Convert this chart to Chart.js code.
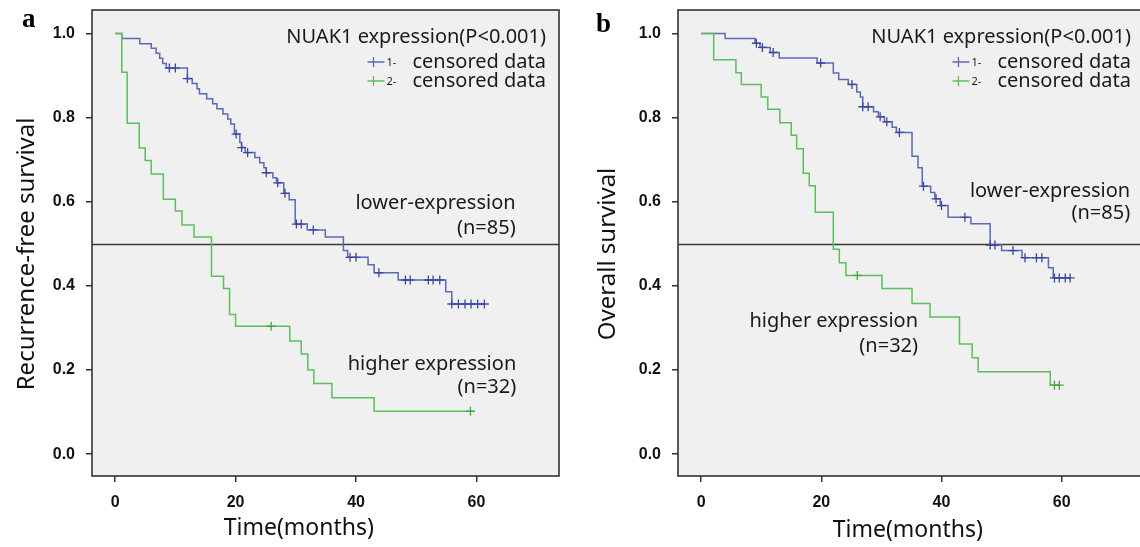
<!DOCTYPE html>
<html>
<head>
<meta charset="utf-8">
<script src="https://cdn.jsdelivr.net/npm/chart.js@4.4.1/dist/chart.umd.min.js"></script>
<style>
  html, body { margin: 0; padding: 0; width: 1140px; height: 547px; overflow: hidden; background: #fff; }
  .panel { position: absolute; top: 0; height: 547px; }
  #panelA { left: 0; width: 570px; }
  #panelB { left: 570px; width: 580px; }
</style>
</head>
<body>
<div class="panel" id="panelA"><canvas id="chartA"></canvas></div>
<div class="panel" id="panelB"><canvas id="chartB"></canvas></div>
<script>
// axis ticks shared by both panels
const xTicks = [0, 20, 40, 60];
const yTicks = [0.0, 0.2, 0.4, 0.6, 0.8, 1.0];
const medianLevel = 0.5;

// (a) recurrence-free survival, lower expression (n=85)
const rfsLowTime = [0, 1.1, 4.1, 6.0, 6.8, 7.4, 7.9, 8.5, 12.0, 12.8, 13.6, 14.0, 15.2, 16.2, 16.9, 17.9, 18.7, 19.2, 19.8, 20.7,
  21.0, 21.6, 23.2, 24.0, 24.7, 25.1, 26.2, 26.8, 28.0, 28.9, 29.9, 31.9, 34.9, 37.9, 38.6, 42.0, 43.0, 47.0, 54.9, 55.9];
const rfsLowSurv = [1.0, 0.988, 0.976, 0.965, 0.953, 0.941, 0.929, 0.918, 0.893, 0.881, 0.869, 0.857, 0.845, 0.833, 0.821, 0.809, 0.797, 0.785, 0.761, 0.741,
  0.729, 0.717, 0.705, 0.693, 0.681, 0.669, 0.657, 0.645, 0.620, 0.605, 0.547, 0.533, 0.516, 0.484, 0.468, 0.450, 0.431, 0.414, 0.386, 0.357];
const rfsLowCensored = [9.0, 10.0, 12.0, 20.1, 21.0, 22.0, 25.1, 27.0, 28.2, 30.1, 30.9, 32.9, 39.0, 40.0, 43.8,
  48.2, 49.0, 52.0, 52.8, 53.9, 55.9, 57.0, 58.1, 59.1, 60.2, 61.3];

// (a) recurrence-free survival, higher expression (n=32)
const rfsHighTime = [0, 1.1, 2.0, 4.0, 5.0, 6.0, 8.0, 10.0, 11.1, 13.1, 16.0, 18.0, 19.0, 20.0, 29.0, 30.9, 32.0, 33.0, 36.0, 43.0];
const rfsHighSurv = [1.0, 0.908, 0.787, 0.728, 0.698, 0.666, 0.606, 0.578, 0.545, 0.516, 0.423, 0.394, 0.332, 0.304, 0.269, 0.238, 0.200, 0.168, 0.134, 0.102];
const rfsHighCensored = [25.9, 59.0];

// (b) overall survival, lower expression (n=85)
const osLowTime = [0, 4.0, 9.0, 9.8, 11.5, 13.0, 19.3, 22.0, 22.9, 24.5, 25.9, 26.5, 26.9, 28.7, 29.5, 30.5, 31.8, 32.5,
  35.1, 36.1, 36.8, 38.2, 38.9, 39.8, 41.1, 44.9, 48.1, 50.0, 53.4, 57.8, 58.6];
const osLowSurv = [1.0, 0.988, 0.977, 0.967, 0.955, 0.942, 0.930, 0.906, 0.891, 0.879, 0.861, 0.849, 0.826, 0.814, 0.802, 0.790, 0.777, 0.765,
  0.708, 0.681, 0.637, 0.622, 0.607, 0.591, 0.563, 0.548, 0.497, 0.484, 0.467, 0.443, 0.419];
const osLowCensored = [9.2, 10.2, 12.0, 19.9, 25.1, 26.9, 27.8, 29.8, 30.9, 33.0, 37.0, 39.1, 40.0, 43.9,
  48.1, 48.9, 51.9, 53.9, 55.8, 56.7, 58.8, 59.6, 60.6, 61.4];

// (b) overall survival, higher expression (n=32)
const osHighTime = [0, 2.1, 5.8, 6.7, 10.0, 11.1, 13.1, 15.0, 15.9, 17.0, 18.0, 19.0, 22.0, 23.0, 24.1, 30.1, 35.1, 38.1, 43.0, 45.1, 46.1, 58.1];
const osHighSurv = [1.0, 0.938, 0.907, 0.879, 0.849, 0.820, 0.788, 0.758, 0.726, 0.668, 0.638, 0.575, 0.487, 0.455, 0.425, 0.394, 0.358, 0.326, 0.262, 0.229, 0.196, 0.164];
const osHighCensored = [26.0, 58.8, 59.6];

const blueLine = '#5b69b6';
const blueMark = '#3b479e';
const greenLine = '#5dbe5d';
const greenMark = '#3fa83f';
const textFont = '"Noto Sans", "Open Sans", sans-serif';

// survival level at time t (last step at or before t)
function levelAt(times, surv, t) {
  let s = surv[0];
  for (let i = 0; i < times.length; i++) {
    if (times[i] <= t) s = surv[i];
  }
  return s;
}

// step points, carried on to the last follow-up time
function curvePoints(times, surv, censored) {
  const pts = times.map((t, i) => ({ x: t, y: surv[i] }));
  const end = Math.max(...censored);
  if (end > times[times.length - 1]) pts.push({ x: end, y: surv[surv.length - 1] });
  return pts;
}

function censorPoints(times, surv, censored) {
  return censored.map(t => ({ x: t, y: levelAt(times, surv, t) }));
}

const panelDecor = {
  id: 'panelDecor',
  beforeDraw(chart) {
    const { ctx, chartArea: a } = chart;
    ctx.save();
    ctx.fillStyle = '#f0f0f0';
    ctx.fillRect(a.left, a.top, a.right - a.left, a.bottom - a.top);
    ctx.restore();
  },
  beforeDatasetsDraw(chart) {
    const { ctx, chartArea: a, scales } = chart;
    const py = Math.round(scales.y.getPixelForValue(medianLevel)) + 0.5;
    ctx.save();
    ctx.strokeStyle = '#3a3a3a';
    ctx.lineWidth = 1.6;
    ctx.beginPath();
    ctx.moveTo(a.left, py);
    ctx.lineTo(a.right, py);
    ctx.stroke();
    ctx.restore();
  },
  afterDraw(chart, args, o) {
    const { ctx, chartArea: a, scales } = chart;
    ctx.save();
    // frame
    ctx.strokeStyle = '#333';
    ctx.lineWidth = 1.6;
    ctx.strokeRect(a.left, a.top, a.right - a.left, a.bottom - a.top);

    // panel letter
    ctx.fillStyle = '#000';
    ctx.font = 'bold 27px "Liberation Serif", serif';
    ctx.textAlign = 'left';
    ctx.textBaseline = 'alphabetic';
    ctx.fillText(o.letter, o.letterX, o.letterY);

    // axis titles
    ctx.fillStyle = '#111';
    ctx.font = '23px ' + textFont;
    ctx.textAlign = 'center';
    ctx.textBaseline = 'middle';
    ctx.fillText('Time(months)', scales.x.getPixelForValue(o.xTitleAt), o.xTitleY);
    ctx.save();
    ctx.font = '24px ' + textFont;
    ctx.translate(o.yTitleX, scales.y.getPixelForValue(o.yTitleAt));
    ctx.rotate(-Math.PI / 2);
    ctx.fillText(o.yTitle, 0, 0);
    ctx.restore();

    // legend block, top right
    const rx = a.right - 13;
    ctx.font = '20px ' + textFont;
    ctx.textAlign = 'right';
    ctx.fillStyle = '#1a1a1a';
    ctx.fillText('NUAK1 expression(P<0.001)', rx, a.top + 27);
    [['1', blueLine], ['2', greenLine]].forEach(([num, col], i) => {
      const cy = a.top + 52 + i * 19;
      ctx.font = '20px ' + textFont;
      ctx.textAlign = 'right';
      ctx.fillStyle = '#1a1a1a';
      ctx.fillText('censored data', rx, cy);
      const tx = rx - ctx.measureText('censored data').width;
      ctx.font = '11px ' + textFont;
      ctx.textAlign = 'left';
      ctx.fillText(num + '-', tx - 26, cy + 1);
      ctx.strokeStyle = col;
      ctx.lineWidth = 1.3;
      ctx.beginPath();
      ctx.moveTo(tx - 45, cy); ctx.lineTo(tx - 28, cy);
      ctx.moveTo(tx - 39, cy - 5); ctx.lineTo(tx - 39, cy + 5);
      ctx.stroke();
    });

    // group notes
    ctx.font = '20px ' + textFont;
    ctx.textAlign = 'right';
    ctx.fillStyle = '#1a1a1a';
    o.notes.forEach(n => {
      ctx.fillText(n.text, scales.x.getPixelForValue(n.t), scales.y.getPixelForValue(n.s));
    });
    ctx.restore();
  }
};

const tickFont = { family: '"Liberation Sans", Arial, sans-serif', size: 16, weight: 'bold' };
// outward tick marks only, no grid inside the plot
const tickGrid = { display: true, drawOnChartArea: false, drawTicks: true, tickLength: 6, color: '#333', lineWidth: 1.5 };

// fixed axis box, no extra label overhang padding
function fixBox(s, prop, size) {
  s[prop] = size;
  s.paddingTop = 0; s.paddingBottom = 0; s.paddingLeft = 0; s.paddingRight = 0;
}

function makeChart(id, d) {
  return new Chart(document.getElementById(id), {
    type: 'line',
    data: {
      datasets: [
        { type: 'scatter', data: censorPoints(d.highT, d.highS, d.highC), pointStyle: 'cross', pointRadius: 4.5,
          borderColor: greenMark, borderWidth: 1.3, showLine: false },
        { type: 'scatter', data: censorPoints(d.lowT, d.lowS, d.lowC), pointStyle: 'cross', pointRadius: 4.5,
          borderColor: blueMark, borderWidth: 1.3, showLine: false },
        { data: curvePoints(d.highT, d.highS, d.highC), stepped: true, borderColor: greenLine, borderWidth: 1.5,
          pointRadius: 0, fill: false },
        { data: curvePoints(d.lowT, d.lowS, d.lowC), stepped: true, borderColor: blueLine, borderWidth: 1.5,
          pointRadius: 0, fill: false }
      ]
    },
    options: {
      responsive: true,
      maintainAspectRatio: false,
      animation: false,
      devicePixelRatio: 1,
      layout: { padding: { top: 10, right: d.padRight, bottom: 0, left: 0 } },
      plugins: {
        legend: { display: false },
        tooltip: { enabled: false },
        panelDecor: d.decor
      },
      scales: {
        x: {
          type: 'linear', min: -3.84, max: 73.7,
          grid: tickGrid, border: { display: false },
          ticks: { padding: 11, font: tickFont, color: '#111', autoSkip: false, maxRotation: 0, callback: v => String(v) },
          afterBuildTicks: s => { s.ticks = xTicks.map(v => ({ value: v })); },
          afterFit: s => fixBox(s, 'height', 71)
        },
        y: {
          type: 'linear', min: -0.052, max: 1.056,
          grid: tickGrid, border: { display: false },
          ticks: { padding: 11, font: tickFont, color: '#111', autoSkip: false, callback: v => v.toFixed(1) },
          afterBuildTicks: s => { s.ticks = yTicks.map(v => ({ value: v })); },
          afterFit: s => fixBox(s, 'width', d.axisWidth)
        }
      }
    },
    plugins: [panelDecor]
  });
}

makeChart('chartA', {
  lowT: rfsLowTime, lowS: rfsLowSurv, lowC: rfsLowCensored,
  highT: rfsHighTime, highS: rfsHighSurv, highC: rfsHighCensored,
  axisWidth: 92, padRight: 11,
  decor: {
    letter: 'a', letterX: 22, letterY: 27,
    yTitle: 'Recurrence-free survival', yTitleX: 27, yTitleAt: 0.476,
    xTitleAt: 30.5, xTitleY: 528,
    notes: [
      { text: 'lower-expression', t: 66.5, s: 0.597 },
      { text: '(n=85)', t: 66.5, s: 0.538 },
      { text: 'higher expression', t: 66.6, s: 0.214 },
      { text: '(n=32)', t: 66.6, s: 0.159 }
    ]
  }
});

makeChart('chartB', {
  lowT: osLowTime, lowS: osLowSurv, lowC: osLowCensored,
  highT: osHighTime, highS: osHighSurv, highC: osHighCensored,
  axisWidth: 108, padRight: 6,
  decor: {
    letter: 'b', letterX: 26, letterY: 32,
    yTitle: 'Overall survival', yTitleX: 38, yTitleAt: 0.476,
    xTitleAt: 34.4, xTitleY: 530,
    notes: [
      { text: 'lower-expression', t: 71.4, s: 0.625 },
      { text: '(n=85)', t: 71.4, s: 0.572 },
      { text: 'higher expression', t: 36.1, s: 0.315 },
      { text: '(n=32)', t: 36.1, s: 0.257 }
    ]
  }
});
</script>
</body>
</html>
